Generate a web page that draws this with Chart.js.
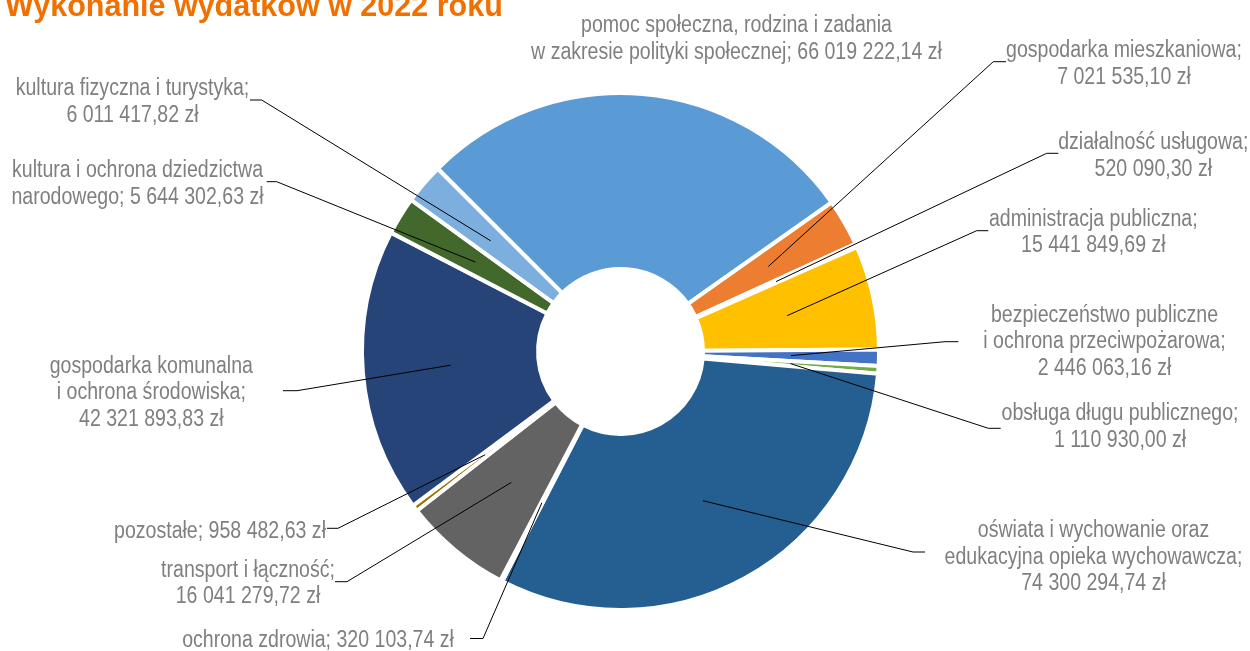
<!DOCTYPE html>
<html lang="pl">
<head>
<meta charset="UTF-8">
<title>Wykonanie wydatków w 2022 roku</title>
<script src="https://cdn.jsdelivr.net/npm/chart.js"></script>
<style>
    body { margin: 0; background: #fff; }
    #wrap { width: 1250px; height: 651px; overflow: hidden; }
</style>
</head>
<body>
<div id="wrap"><canvas id="chart" width="1250" height="651"></canvas></div>
<script>
    const title = 'Wykonanie wydatków w 2022 roku';

    // clockwise from the top-left, as in the source chart
    const categories = [
        'pomoc społeczna, rodzina i zadania\nw zakresie polityki społecznej',
        'gospodarka mieszkaniowa',
        'działalność usługowa',
        'administracja publiczna',
        'bezpieczeństwo publiczne\ni ochrona przeciwpożarowa',
        'obsługa długu publicznego',
        'oświata i wychowanie oraz\nedukacyjna opieka wychowawcza',
        'ochrona zdrowia',
        'transport i łączność',
        'pozostałe',
        'gospodarka komunalna\ni ochrona środowiska',
        'kultura i ochrona dziedzictwa\nnarodowego',
        'kultura fizyczna i turystyka'
    ];
    const values = [66019222.14, 7021535.10, 520090.30, 15441849.69, 2446063.16, 1110930.00,
                    74300294.74, 320103.74, 16041279.72, 958482.63, 42321893.83, 5644302.63, 6011417.82];
    const colors = ['#5B9BD5', '#ED7D31', '#A5A5A5', '#FFC000', '#4472C4', '#70AD47',
                    '#255E91', '#9E480E', '#636363', '#997300', '#264478', '#43682B', '#7CAFDD'];

    // label placement: x = text centre, y = first baseline, br = value on its own line,
    // elbow = where the leader turns horizontal, tail = end of the horizontal bit
    const labelLayout = [
        { x: 736.5, y: 32, br: false },
        { x: 1124, y: 57.3, br: true, elbow: [993.3, 61.7], tail: 1006 },
        { x: 1153.3, y: 149.3, br: true, elbow: [1046.7, 153.3], tail: 1058.3 },
        { x: 1093.3, y: 225.7, br: true, elbow: [976.7, 230.7], tail: 988.3 },
        { x: 1104.5, y: 321.7, br: true, elbow: [945, 341.7], tail: 958.3 },
        { x: 1120, y: 420, br: true, elbow: [988.3, 428.3], tail: 1000.7 },
        { x: 1093.5, y: 537, br: true, elbow: [913, 552], tail: 925 },
        { x: 318, y: 646.7, br: false, elbow: [483, 638.5], tail: 470 },
        { x: 248, y: 576.7, br: true, elbow: [347, 581.7], tail: 335 },
        { x: 220, y: 538.3, br: false, elbow: [338, 528.3], tail: 327 },
        { x: 151.3, y: 372.7, br: true, elbow: [297, 390.7], tail: 283 },
        { x: 137.5, y: 177, br: false, elbow: [276.7, 181.7], tail: 266.7 },
        { x: 132.5, y: 95, br: true, elbow: [261.7, 100], tail: 250 }
    ];
    const lineHeight = 26.5;

    function fmt(v) {
        const [i, d] = v.toFixed(2).split('.');
        return i.replace(/\B(?=(\d{3})+(?!\d))/g, ' ') + ',' + d + ' zł';
    }

    const callouts = {
        id: 'callouts',
        afterDatasetsDraw(chart) {
            const ctx = chart.ctx;
            const arcs = chart.getDatasetMeta(0).data;
            ctx.save();

            // leader lines from the middle of each slice
            ctx.strokeStyle = '#000';
            ctx.lineWidth = 1;
            arcs.forEach((arc, i) => {
                const L = labelLayout[i];
                if (!L.elbow) return;
                const p = arc.getCenterPoint();
                ctx.beginPath();
                ctx.moveTo(p.x, p.y);
                ctx.lineTo(L.elbow[0], L.elbow[1]);
                ctx.lineTo(L.tail, L.elbow[1]);
                ctx.stroke();
            });

            // labels (narrow font imitated by squeezing Liberation Sans)
            ctx.fillStyle = '#7F7F7F';
            ctx.font = '23px "Liberation Sans", Arial, sans-serif';
            ctx.textAlign = 'center';
            ctx.textBaseline = 'alphabetic';
            categories.forEach((c, i) => {
                const L = labelLayout[i];
                const lines = (c + (L.br ? ';\n' : '; ') + fmt(values[i])).split('\n');
                lines.forEach((ln, k) => {
                    ctx.save();
                    ctx.translate(L.x, L.y + k * lineHeight);
                    ctx.scale(0.85, 1);
                    ctx.fillText(ln, 0, 0);
                    ctx.restore();
                });
            });

            // title, cut off at the top like the source
            ctx.fillStyle = '#F07000';
            ctx.font = 'bold 30.5px "Liberation Sans", Arial, sans-serif';
            ctx.textAlign = 'left';
            ctx.fillText(title, 5, 16);
            ctx.restore();
        }
    };

    new Chart(document.getElementById('chart').getContext('2d'), {
        type: 'doughnut',
        data: {
            labels: categories,
            datasets: [{
                data: values,
                backgroundColor: colors,
                borderColor: '#FFFFFF',
                borderWidth: 4
            }]
        },
        options: {
            responsive: false,
            animation: false,
            devicePixelRatio: 1,
            rotation: -45,
            radius: 258.5,
            cutout: '31.9%',
            layout: { padding: { left: 0, right: 9, top: 52, bottom: 0 } },
            plugins: { legend: { display: false }, tooltip: { enabled: false } }
        },
        plugins: [callouts]
    });
</script>
</body>
</html>
